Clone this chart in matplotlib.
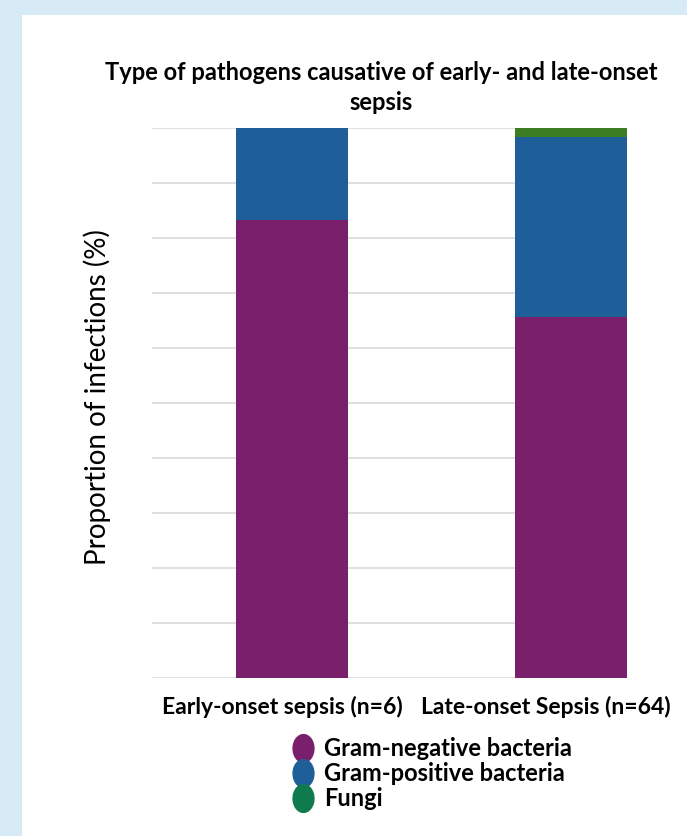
import numpy as np
import matplotlib.pyplot as plt
import matplotlib.transforms as mtransforms
from matplotlib.path import Path
from matplotlib.lines import Line2D
from matplotlib.patches import Rectangle

# data (percent of infections)
kategori = ['Early-onset sepsis (n=6)', 'Late-onset Sepsis (n=64)']
gram_neg = [83.3, 65.6]
gram_pos = [16.7, 32.8]
fungi = [0.0, 1.6]
label_seri = ['Gram-negative bacteria', 'Gram-positive bacteria', 'Fungi']

warna_ungu = '#7A1F6B'
warna_biru = '#1F5F99'
warna_hijau_bar = '#3C7D22'
warna_hijau_leg = '#0E7A4E'

plt.rcParams['font.family'] = ['Lato', 'DejaVu Sans']

fig = plt.figure(figsize=(6.87, 8.36), dpi=100)
fig.patch.set_facecolor('#D6EBF5')
# white panel
fig.patches.append(Rectangle((22/687, 0), 1 - 22/687, 1 - 15/836, transform=fig.transFigure,
                             facecolor='white', edgecolor='none', zorder=-10))

ax = fig.add_axes([152/687, (836-678)/836, 475/687, 550/836])
ax.set_facecolor('none')

x = np.arange(len(kategori))
lebar = 0.40
ax.bar(x, gram_neg, lebar, color=warna_ungu, zorder=3)
ax.bar(x, gram_pos, lebar, bottom=gram_neg, color=warna_biru, zorder=3)
bawah_fungi = [a + b for a, b in zip(gram_neg, gram_pos)]
ax.bar(x, fungi, lebar, bottom=bawah_fungi, color=warna_hijau_bar, zorder=3)

ax.set_xlim(-0.5, 1.2)
ax.set_ylim(0, 100)
ax.set_yticks(np.arange(0, 101, 10))
ax.yaxis.grid(True, color='#D9D9D9', linewidth=1.2, zorder=0)
ax.set_yticklabels([])
ax.tick_params(axis='y', length=0)
for s in ax.spines.values():
    s.set_visible(False)

ax.set_xticks(x)
ax.set_xticklabels(kategori, fontsize=16.5, fontweight='bold')
ax.tick_params(axis='x', length=0, pad=13)
# geser label sedikit ke kiri seperti aslinya
for lbl, dx in zip(ax.get_xticklabels(), [-9, -25]):
    lbl.set_transform(lbl.get_transform() + mtransforms.ScaledTranslation(dx/100, 0, fig.dpi_scale_trans))

fig.text(97/687, 1 - 397/836, 'Proportion of infections (%)', rotation=90,
         ha='center', va='center', fontsize=20)

fig.text(381/687, 1 - 72/836, 'Type of pathogens causative of early- and late-onset',
         ha='center', va='center', fontsize=17, fontweight='bold')
fig.text(381/687, 1 - 102/836, 'sepsis', ha='center', va='center', fontsize=17, fontweight='bold')

# legend with oval markers
lingkar = Path.unit_circle()
oval = Path(lingkar.vertices * np.array([0.75, 1.0]), lingkar.codes)
handles = [Line2D([], [], marker=oval, linestyle='none', markersize=20, color=c)
           for c in [warna_ungu, warna_biru, warna_hijau_leg]]
fig.legend(handles, label_seri, loc='upper left', bbox_to_anchor=(282/687, 1 - 728/836),
           frameon=False, prop={'size': 17, 'weight': 'bold'}, handletextpad=0.4,
           labelspacing=0.08, handlelength=1.0, borderaxespad=0)

fig.savefig('out.png', dpi=100)
